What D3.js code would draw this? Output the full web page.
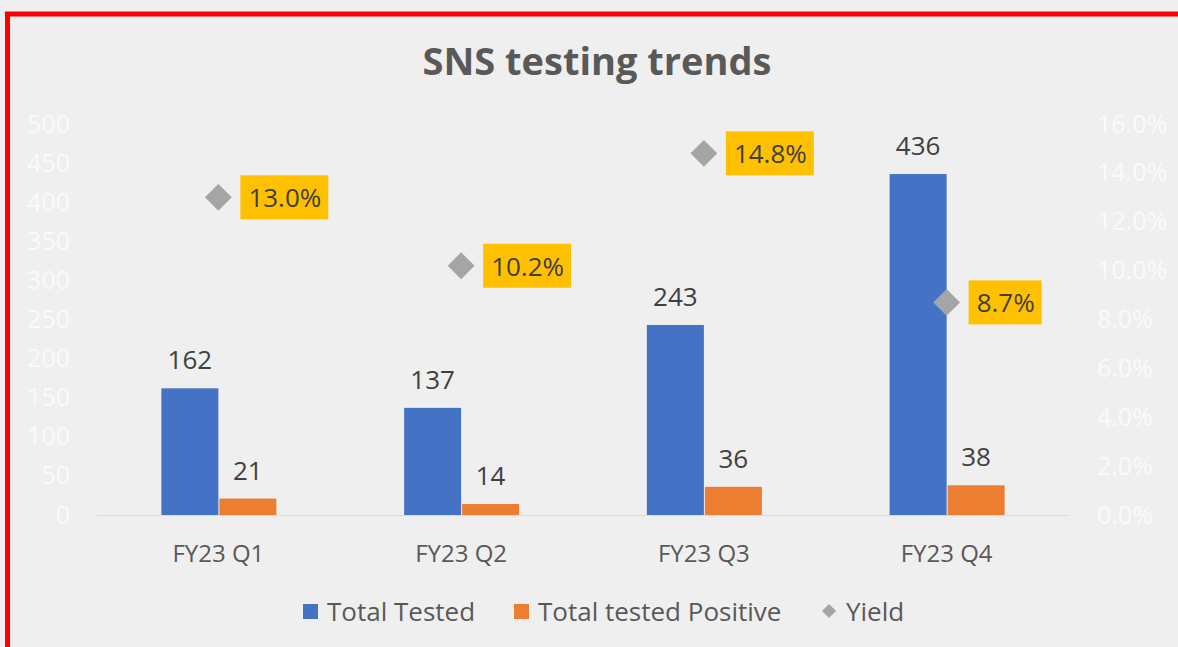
<!DOCTYPE html>
<html>
<head>
<meta charset="utf-8">
<script src="https://cdn.jsdelivr.net/npm/d3@7"></script>
<style>
  html, body { margin: 0; padding: 0; background: #efefef; }
  svg { display: block; font-family: "Open Sans", sans-serif; }
</style>
</head>
<body>
<svg id="chart" width="1178" height="647"></svg>
<script>
var categories = ['FY23 Q1', 'FY23 Q2', 'FY23 Q3', 'FY23 Q4'];
var totalTested = [162, 137, 243, 436];
var totalPositive = [21, 14, 36, 38];
var yieldPct = [0.130, 0.102, 0.148, 0.087];
var leftTicks = [0, 50, 100, 150, 200, 250, 300, 350, 400, 450, 500];
var rightTicks = [0, 0.02, 0.04, 0.06, 0.08, 0.10, 0.12, 0.14, 0.16];

var svg, x, yLeft, yRight, barW, plotTop, plotBottom, rows, g, yl, legend, legendItems, font;

svg = d3.select('#chart');
font = '"Open Sans", sans-serif';
plotTop = 124;
plotBottom = 515;
barW = 57;

rows = categories.map(function(c, i) {
  return { cat: c, tested: totalTested[i], pos: totalPositive[i], yield: yieldPct[i] };
});

x = d3.scaleBand().domain(categories).range([97, 1068]);
yLeft = d3.scaleLinear().domain([0, 500]).range([plotBottom, plotTop]);
yRight = d3.scaleLinear().domain([0, 0.16]).range([plotBottom, plotTop]);

// background + red frame
svg.append('rect').attr('width', 1178).attr('height', 647).attr('fill', '#efefef');
svg.append('rect').attr('x', 7.5).attr('y', 14).attr('width', 1250).attr('height', 700)
  .attr('fill', 'none').attr('stroke', '#ff0000').attr('stroke-width', 5);

// title
svg.append('text').attr('x', 597).attr('y', 75).attr('text-anchor', 'middle')
  .style('font-size', '38px').style('font-weight', 'bold').style('fill', '#595959')
  .text('SNS testing trends');

// left axis (white labels)
g = svg.append('g').attr('transform', 'translate(70,0)')
  .call(d3.axisLeft(yLeft).tickValues(leftTicks).tickSize(0).tickPadding(0));
g.select('.domain').remove();
g.selectAll('text').style('font-size', '25px').style('fill', '#fafafa').style('font-family', font);

// right axis
g = svg.append('g').attr('transform', 'translate(1097,0)')
  .call(d3.axisRight(yRight).tickValues(rightTicks).tickFormat(d3.format('.1%')).tickSize(0).tickPadding(0));
g.select('.domain').remove();
g.selectAll('text').style('font-size', '25px').style('fill', '#fafafa').style('font-family', font);

// baseline
svg.append('line').attr('x1', 97).attr('x2', 1068).attr('y1', plotBottom + 0.5).attr('y2', plotBottom + 0.5)
  .attr('stroke', '#d9d9d9').attr('stroke-width', 1);

// category labels
g = svg.append('g').attr('transform', 'translate(0,' + plotBottom + ')')
  .call(d3.axisBottom(x).tickSize(0).tickPadding(30));
g.select('.domain').remove();
g.selectAll('text').style('font-size', '24px').style('fill', '#595959').style('font-family', font);

function mid(d) { return x(d.cat) + x.bandwidth() / 2; }

// bars
svg.selectAll('rect.tested').data(rows).enter().append('rect').attr('class', 'tested')
  .attr('x', function(d) { return mid(d) - barW; }).attr('width', barW)
  .attr('y', function(d) { return yLeft(d.tested); })
  .attr('height', function(d) { return plotBottom - yLeft(d.tested); })
  .attr('fill', '#4472c4');
svg.selectAll('rect.pos').data(rows).enter().append('rect').attr('class', 'pos')
  .attr('x', function(d) { return mid(d) + 1; }).attr('width', barW)
  .attr('y', function(d) { return yLeft(d.pos); })
  .attr('height', function(d) { return plotBottom - yLeft(d.pos); })
  .attr('fill', '#ed7d31');

// bar labels
svg.selectAll('text.tl').data(rows).enter().append('text').attr('class', 'tl')
  .attr('x', function(d) { return mid(d) - barW / 2; })
  .attr('y', function(d) { return yLeft(d.tested) - 19; })
  .attr('text-anchor', 'middle').style('font-size', '26px').style('fill', '#404040')
  .text(function(d) { return d.tested; });
svg.selectAll('text.pl').data(rows).enter().append('text').attr('class', 'pl')
  .attr('x', function(d) { return mid(d) + 1 + barW / 2; })
  .attr('y', function(d) { return yLeft(d.pos) - 19; })
  .attr('text-anchor', 'middle').style('font-size', '26px').style('fill', '#404040')
  .text(function(d) { return d.pos; });

// yield markers
svg.selectAll('path.yield').data(rows).enter().append('path').attr('class', 'yield')
  .attr('d', d3.symbol().type(d3.symbolSquare).size(360))
  .attr('transform', function(d) { return 'translate(' + mid(d) + ',' + yRight(d.yield) + ') rotate(45)'; })
  .attr('fill', '#a5a5a5');

// yield labels in yellow boxes
yl = svg.selectAll('g.yl').data(rows).enter().append('g').attr('class', 'yl')
  .attr('transform', function(d) { return 'translate(' + (mid(d) + 22) + ',' + yRight(d.yield) + ')'; });
yl.append('text').attr('x', 8).attr('y', 10)
  .style('font-size', '26px').style('fill', '#404040')
  .text(function(d) { return d3.format('.1%')(d.yield); });
yl.insert('rect', 'text').attr('y', -22).attr('height', 44)
  .attr('width', function() { return this.nextSibling.getComputedTextLength() + 15; })
  .attr('fill', '#ffc000');

// legend
legend = [
  { name: 'Total Tested', color: '#4472c4', shape: 'sq', x: 303 },
  { name: 'Total tested Positive', color: '#ed7d31', shape: 'sq', x: 514 },
  { name: 'Yield', color: '#a5a5a5', shape: 'dm', x: 821 }
];
legendItems = svg.selectAll('g.leg').data(legend).enter().append('g').attr('class', 'leg')
  .attr('transform', function(d) { return 'translate(' + d.x + ',611)'; });
legendItems.filter(function(d) { return d.shape === 'sq'; }).append('rect')
  .attr('x', 0).attr('y', -7).attr('width', 15).attr('height', 15).attr('fill', function(d) { return d.color; });
legendItems.filter(function(d) { return d.shape === 'dm'; }).append('path')
  .attr('d', d3.symbol().type(d3.symbolSquare).size(100))
  .attr('transform', 'translate(8,0) rotate(45)').attr('fill', function(d) { return d.color; });
legendItems.append('text').attr('x', function(d) { return d.shape === 'sq' ? 24 : 25; }).attr('y', 10)
  .style('font-size', '26px').style('fill', '#595959')
  .text(function(d) { return d.name; });
</script>
</body>
</html>
